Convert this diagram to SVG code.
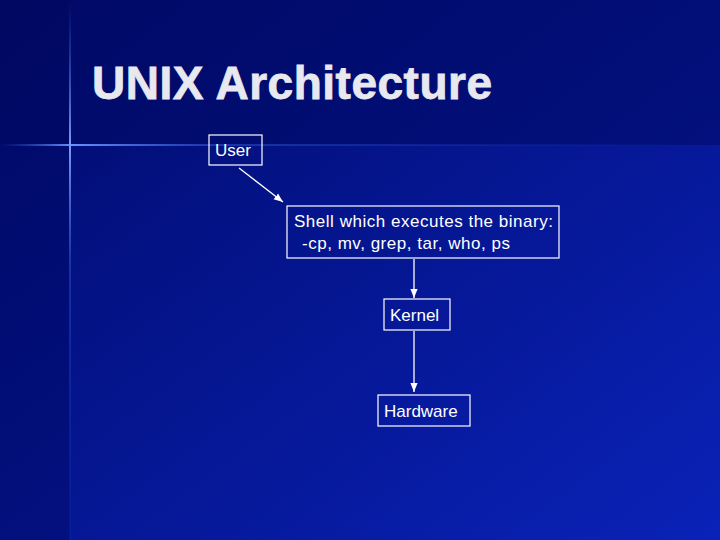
<svg xmlns="http://www.w3.org/2000/svg" width="720" height="540" viewBox="0 0 720 540">
<defs>
<linearGradient id="bg" x1="0" y1="0" x2="1" y2="1">
<stop offset="0" stop-color="#000a6a"/><stop offset="1" stop-color="#0a22b8"/>
</linearGradient>
<linearGradient id="hl" x1="0" y1="0" x2="1" y2="0">
<stop offset="0" stop-color="#3060e0" stop-opacity="0"/><stop offset="0.1" stop-color="#6a90ff"/><stop offset="0.3" stop-color="#2a50d0" stop-opacity="0.6"/><stop offset="1" stop-color="#1030c0" stop-opacity="0"/>
</linearGradient>
<linearGradient id="vl" x1="0" y1="0" x2="0" y2="1">
<stop offset="0" stop-color="#3060e0" stop-opacity="0"/><stop offset="0.27" stop-color="#7a9cff"/><stop offset="0.5" stop-color="#2a50d0" stop-opacity="0.5"/><stop offset="1" stop-color="#1030c0" stop-opacity="0.2"/>
</linearGradient>
<marker id="ah" viewBox="0 0 10 10" refX="10" refY="5" markerWidth="7" markerHeight="7" orient="auto"><path d="M0,1 L10,5 L0,9 z" fill="#fff"/></marker>
<style>
.box{fill:none;stroke:#fff;stroke-width:1.2}
.t{font-family:"Liberation Sans",Arial,sans-serif;font-size:17px;fill:#fff}
.c{stroke:#fff;stroke-width:1.3;fill:none;marker-end:url(#ah)}
</style>
</defs>
<rect width="720" height="540" fill="url(#bg)"/>
<rect x="0" y="0" width="720" height="145" fill="#000860" opacity="0.5"/>
<rect x="0" y="0" width="70" height="540" fill="#000860" opacity="0.4"/>
<rect x="0" y="144" width="720" height="2" fill="url(#hl)"/>
<rect x="69" y="0" width="2" height="540" fill="url(#vl)"/>
<text x="92" y="99" font-family="Liberation Sans,Arial,sans-serif" font-weight="bold" font-size="46" fill="#e8e8f0" stroke="#e8e8f0" stroke-width="0.8" textLength="400">UNIX Architecture</text>
<g id="connectors">
<line class="c" x1="239" y1="168" x2="283" y2="202"/>
<line class="c" x1="414" y1="259" x2="414" y2="298"/>
<line class="c" x1="414" y1="331" x2="414" y2="392"/>
</g>
<g id="user"><rect class="box" x="209" y="135" width="53" height="30"/><text class="t" x="215" y="156">User</text></g>
<g id="shell"><rect class="box" x="287" y="206" width="272" height="52"/><text class="t" x="294" y="227" textLength="259">Shell which executes the binary:</text><text class="t" x="302" y="249" textLength="208">-cp, mv, grep, tar, who, ps</text></g>
<g id="kernel"><rect class="box" x="384" y="299" width="66" height="31"/><text class="t" x="390" y="321">Kernel</text></g>
<g id="hardware"><rect class="box" x="378" y="395" width="92" height="31"/><text class="t" x="384" y="417">Hardware</text></g>
</svg>
